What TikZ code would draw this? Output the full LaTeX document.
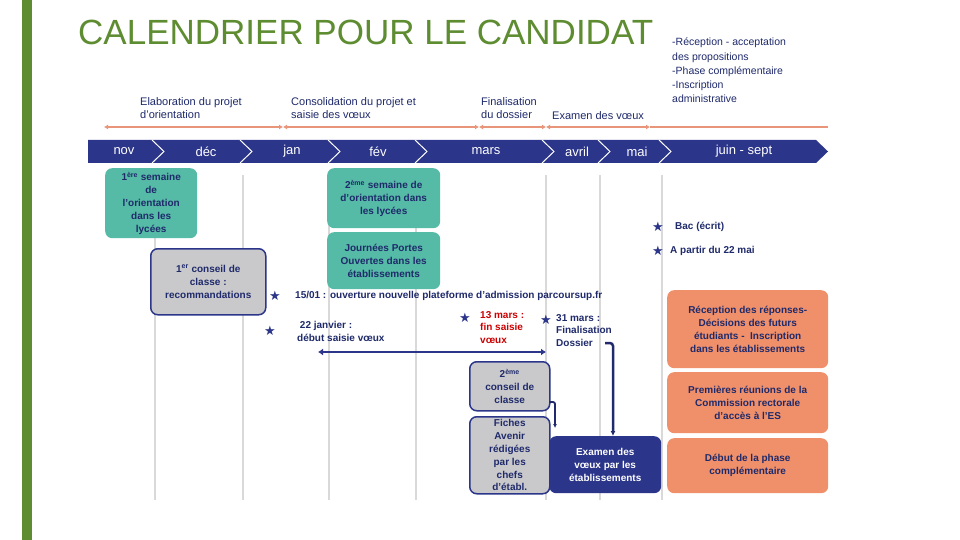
\documentclass[tikz,border=0pt]{standalone}
\usepackage{fontspec}
\setmainfont{Liberation Sans}
\newfontfamily\symf{DejaVu Sans}
\usetikzlibrary{arrows.meta}
\definecolor{navy}{HTML}{2B3589}
\definecolor{txt}{HTML}{1F2A6B}
\definecolor{teal}{HTML}{55BAA6}
\definecolor{org}{HTML}{F0906A}
\definecolor{orl}{HTML}{E8957A}
\definecolor{grn}{HTML}{5E8C31}
\definecolor{gry}{HTML}{C9C9CB}
\definecolor{vl}{HTML}{D9D9D9}
\begin{document}
\begin{tikzpicture}[x=1pt,y=-1pt,
 lbl/.style={text=txt,font=\fontsize{11}{13.5}\selectfont,align=left,anchor=north west,inner sep=0},
 bx/.style={rounded corners=7pt,text=txt,font=\bfseries\fontsize{10}{12.8}\selectfont,align=center,anchor=north west,inner sep=1pt},
 tealbox/.style={bx,fill=teal},
 graybox/.style={bx,fill=gry,draw=navy,line width=1.5pt},
 orbox/.style={bx,fill=org},
 st/.style={text=navy,font=\symf\fontsize{13}{13}\selectfont,inner sep=0},
 bt/.style={text=txt,font=\bfseries\fontsize{10}{12.8}\selectfont,align=left,anchor=north west,inner sep=0},
 oarr/.style={orl,line width=2pt,{Latex[length=4pt,width=5pt]}-{Latex[length=4pt,width=5pt]}}]
\useasboundingbox (0,0) rectangle (960,540);
\fill[white] (0,0) rectangle (960,540);
\fill[grn] (22,0) rectangle (32,540);
\foreach \x in {155,243,329,416,546,600,662} \draw[vl,line width=1.2pt] (\x,175) -- (\x,500);
\node[text=grn,font=\fontsize{35}{35}\selectfont,anchor=west,inner sep=0] (title) at (78,32) {CALENDRIER POUR LE CANDIDAT};
% top labels
\node[lbl] (l1) at (140,97) {Elaboration du projet\\d’orientation};
\node[lbl] (l2) at (291,97) {Consolidation du projet et\\saisie des vœux};
\node[lbl] (l3) at (481,97) {Finalisation\\du dossier};
\node[lbl] (l4) at (552,111) {Examen des vœux};
\node[lbl,font=\fontsize{10.5}{14.2}\selectfont] (l5) at (672,38) {-Réception - acceptation\\des propositions\\-Phase complémentaire\\-Inscription\\administrative};
\coordinate (a0) at (104,127);\coordinate (a1) at (283,127);\coordinate (a2) at (479,127);
\coordinate (a3) at (546,127);\coordinate (a4) at (650,127);\coordinate (a5) at (828,127);
\draw[oarr] (a0) -- (a1); \draw[oarr] (a1) -- (a2); \draw[oarr] (a2) -- (a3); \draw[oarr] (a3) -- (a4);
\draw[orl,line width=2pt] (a4) -- (a5);
% timeline
\fill[navy] (88,140) -- (816,140) -- (828,151.5) -- (816,163) -- (88,163) -- cycle;
\foreach \x in {158,246,334,421,548,604,665} \draw[white,line width=1pt] (\x-6,140) -- (\x+6,151.5) -- (\x-6,163);
\foreach \t/\x in {nov/124,déc/206,jan/292,fév/378,mars/486,avril/577,mai/637,juin - sept/744}
  \node[white,font=\fontsize{13}{13}\selectfont,inner sep=0] at (\x,151.5) {\t};
% boxes
\node[tealbox,minimum width=92pt,minimum height=70pt] (b1) at (105,168) {1\textsuperscript{ère} semaine\\de\\l’orientation\\dans les\\lycées};
\node[graybox,minimum width=115pt,minimum height=66pt] (b2) at (150,248) {1\textsuperscript{er} conseil de\\classe :\\recommandations};
\node[tealbox,minimum width=113pt,minimum height=60pt] (b3) at (327,168) {2\textsuperscript{ème} semaine de\\d’orientation dans\\les lycées};
\node[tealbox,minimum width=113pt,minimum height=57pt] (b4) at (327,232) {Journées Portes\\Ouvertes dans les\\établissements};
\node[graybox,minimum width=80pt,minimum height=49pt] (b5) at (469,361) {2\textsuperscript{ème}\\conseil de\\classe};
\node[graybox,minimum width=80pt,minimum height=77pt] (b6) at (469,416) {Fiches\\Avenir\\rédigées\\par les\\chefs\\d’établ.};
\node[bx,fill=navy,text=white,minimum width=112pt,minimum height=57pt] (b7) at (549,436) {Examen des\\vœux par les\\établissements};
\node[orbox,minimum width=161pt,minimum height=78pt] (o1) at (667,290) {Réception des réponses-\\Décisions des futurs\\étudiants -\ \ Inscription\\dans les établissements};
\node[orbox,minimum width=161pt,minimum height=61pt] (o2) at (667,372) {Premières réunions de la\\Commission rectorale\\d’accès à l’ES};
\node[orbox,minimum width=161pt,minimum height=55pt] (o3) at (667,438) {Début de la phase\\complémentaire};
% stars and texts
\node[st] (s1) at (275,296) {★};
\node[bt,anchor=west] (t1) at (295,296) {15/01 : ouverture nouvelle plateforme d’admission parcoursup.fr};
\node[st] (s2) at (270,331) {★};
\node[bt] (t2) at (297,321) {\ 22 janvier :\\début saisie vœux};
\node[st] (s3) at (465,318) {★};
\node[bt,text=red!80!black] (t3) at (480,311) {13 mars :\\fin saisie\\vœux};
\node[st] (s4) at (546,320) {★};
\node[bt] (t4) at (556,314) {31 mars :\\Finalisation\\Dossier};
\node[st] (s5) at (658,227) {★};
\node[bt,anchor=west] (t5) at (675,227) {Bac (écrit)};
\node[st] (s6) at (658,251) {★};
\node[bt,anchor=west] (t6) at (670,251) {A partir du 22 mai};
\coordinate (d0) at (318,352); \coordinate (d1) at (546,352);
\draw[navy,line width=2.5pt,{Latex[length=5pt,width=7pt]}-{Latex[length=5pt,width=7pt]}] (d0) -- (d1);
\coordinate (c0) at (605,343);
\draw[navy!80!black,line width=2.5pt,-{Latex[length=5pt,width=5pt]},rounded corners=3pt] (c0) -- (613,343) -- (b7.north -| 613,0);
\coordinate (c1) at (549,402);
\draw[navy!80!black,line width=1.8pt,-{Latex[length=4pt,width=4pt]},rounded corners=2pt] (c1) -- (555,402) -- (555,428);
\end{tikzpicture}
\end{document}
